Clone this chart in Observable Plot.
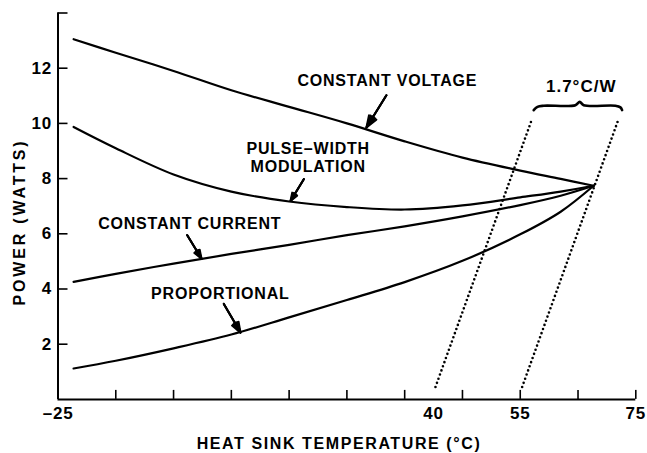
<!DOCTYPE html>
<html><head><meta charset="utf-8">
<script src="https://cdn.jsdelivr.net/npm/d3@7"></script>
<script src="https://cdn.jsdelivr.net/npm/@observablehq/plot@0.6"></script>
<style>body{margin:0;background:#fff}</style>
</head><body><div id="chart"></div>
<script>
// Heat sink temperature (°C) sample points shared by all four curves
const temps = [-22.3, -15, -5, 5, 15, 25, 35, 45, 55, 62, 67.7];
// Power (W)
const constantVoltage = [13.05, 12.56, 11.9, 11.2, 10.6, 10.0, 9.35, 8.76, 8.29, 7.99, 7.74];
const pulseWidth      = [9.87, 9.1, 8.15, 7.53, 7.17, 6.97, 6.88, 7.03, 7.32, 7.53, 7.74];
const constantCurrent = [4.26, 4.55, 4.92, 5.27, 5.6, 5.95, 6.27, 6.63, 7.04, 7.38, 7.74];
const proportional    = [1.12, 1.4, 1.85, 2.35, 2.97, 3.6, 4.25, 5.02, 5.98, 6.8, 7.74];

// Curve labels
const labelText = ["CONSTANT VOLTAGE", "PULSE–WIDTH", "MODULATION", "CONSTANT CURRENT", "PROPORTIONAL"];
const labelT = [32.0, 18.3, 18.3, -2.2, 3.1];
const labelP = [11.54, 9.09, 8.43, 6.35, 3.82];

// Leader arrows (from label to curve)
const arrowT1 = [31.84, 17.54, -2.63, 3.70];
const arrowP1 = [11.02, 7.98, 5.95, 3.46];
const arrowT2 = [28.38, 15.24, -0.16, 6.59];
const arrowP2 = [9.85, 7.19, 5.10, 2.42];

// 1.7 °C/W thermal resistance lines
const thermalT1 = [40.33, 55.33];
const thermalP1 = [0.45, 0.45];
const thermalT2 = [57.06, 72.04];
const thermalP2 = [10.17, 10.17];
const braceT = [57.33, 57.98, 59.07, 64.55, 65.29, 65.98, 71.47, 72.34, 72.63];
const braceP = [10.48, 10.60, 10.64, 10.66, 10.78, 10.66, 10.64, 10.58, 10.48];
const braceLabel = ["1.7°C/W"];
const braceLabelT = [65.55];
const braceLabelP = [11.32];

// Axes
const xTickMarks = [-15, -5, 5, 15, 25, 35, 45, 55, 65, 75];
const xTickLabels = [-25, 40, 55, 75];
const yTickMarks = [2, 4, 6, 8, 10, 12, 14];
const yTickLabels = [2, 4, 6, 8, 10, 12];
const xTitle = "HEAT SINK TEMPERATURE (°C)";
const yTitle = "POWER (WATTS)";

const series = [
  {name: "cv", values: constantVoltage},
  {name: "pwm", values: pulseWidth},
  {name: "cc", values: constantCurrent},
  {name: "prop", values: proportional}
];
const curveRows = series.flatMap(s => temps.map((t, i) => ({series: s.name, t, p: s.values[i]})));
const labels = labelText.map((text, i) => ({text, t: labelT[i], p: labelP[i]}));
const arrows = arrowT1.map((t, i) => ({t1: t, p1: arrowP1[i], t2: arrowT2[i], p2: arrowP2[i]}));
const thermal = thermalT1.map((t, i) => ({t1: t, p1: thermalP1[i], t2: thermalT2[i], p2: thermalP2[i]}));
const brace = braceT.map((t, i) => ({t, p: braceP[i]}));
const braceText = braceLabel.map((text, i) => ({text, t: braceLabelT[i], p: braceLabelP[i]}));

const font = "'Liberation Sans', Arial, sans-serif";
const arrowOpts = (angle) => ({x1: "t1", y1: "p1", x2: "t2", y2: "p2", stroke: "black",
  strokeWidth: 2, headLength: 10, headAngle: angle});

const chart = Plot.plot({
  width: 647,
  height: 453,
  marginLeft: 57.5,
  marginRight: 11.7,
  marginTop: 12.5,
  marginBottom: 54.1,
  style: {fontFamily: font, background: "white", color: "black"},
  x: {domain: [-25, 75], axis: null},
  y: {domain: [0, 14], axis: null},
  marks: [
    // axis lines
    Plot.ruleY([0], {stroke: "black", strokeWidth: 2}),
    Plot.ruleX([-25], {stroke: "black", strokeWidth: 2}),
    // inward tick marks
    Plot.axisX({ticks: xTickMarks, tickSize: 9, dy: -9, tickFormat: () => "", strokeWidth: 1.6, label: null}),
    Plot.axisY({ticks: yTickMarks, tickSize: 10, dx: 10, tickFormat: () => "", strokeWidth: 1.6, label: null}),
    // tick labels
    Plot.axisX({ticks: xTickLabels, tickSize: 0, tickPadding: 8, label: null,
      tickFormat: d => d < 0 ? "–" + Math.abs(d) : String(d),
      fontSize: 17, fontWeight: "bold", fontFamily: font}),
    Plot.axisY({ticks: yTickLabels, tickSize: 0, tickPadding: 6, label: null,
      tickFormat: d => String(d), fontSize: 17, fontWeight: "bold", fontFamily: font}),
    // axis titles
    Plot.text([yTitle], {frameAnchor: "left", rotate: -90, dx: -38.5, dy: 15.8,
      textAnchor: "middle", lineAnchor: "middle", fontSize: 16, fontWeight: "bold", fontFamily: font}),
    Plot.text([xTitle], {frameAnchor: "bottom", dx: -7.9, dy: 44.8,
      textAnchor: "middle", lineAnchor: "middle", fontSize: 16, fontWeight: "bold", fontFamily: font}),
    // thermal-resistance lines
    Plot.link(thermal, {x1: "t1", y1: "p1", x2: "t2", y2: "p2", stroke: "black",
      strokeWidth: 2.6, strokeDasharray: "0 4.4", strokeLinecap: "round"}),
    Plot.line(brace, {x: "t", y: "p", curve: "catmull-rom", stroke: "black", strokeWidth: 2.6}),
    Plot.text(braceText, {x: "t", y: "p", text: "text", fontSize: 17, fontWeight: "bold", fontFamily: font}),
    // curves
    Plot.line(curveRows, {x: "t", y: "p", z: "series", curve: "catmull-rom", stroke: "black", strokeWidth: 2.2}),
    // labels and arrows (stacked heads give a filled look)
    Plot.text(labels, {x: "t", y: "p", text: "text", fontSize: 16, fontWeight: "bold", fontFamily: font}),
    Plot.arrow(arrows, arrowOpts(40)),
    Plot.arrow(arrows, arrowOpts(26)),
    Plot.arrow(arrows, arrowOpts(12))
  ]
});
document.getElementById("chart").appendChild(chart);
// letter spacing to match the wide original lettering
const spacing = {[yTitle]: "2.8px", [xTitle]: "1.6px", "1.7°C/W": "1px"};
chart.querySelectorAll("text").forEach(el => {
  const s = spacing[el.textContent];
  el.style.letterSpacing = s || "0.8px";
});
</script>
</body></html>
